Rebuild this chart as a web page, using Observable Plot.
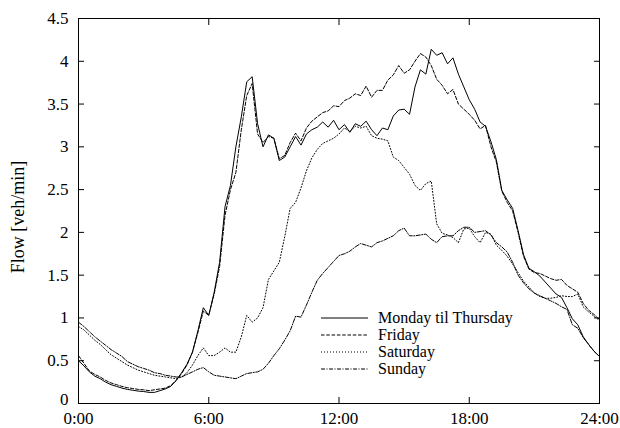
<!DOCTYPE html>
<html>
<head>
<meta charset="utf-8">
<script src="https://cdn.jsdelivr.net/npm/d3@7"></script>
<script src="https://cdn.jsdelivr.net/npm/@observablehq/plot@0.6"></script>
<style>
  body { margin: 0; background: white; }
  #wrap { position: relative; width: 620px; height: 428px; font-family: "Liberation Serif", "Times New Roman", serif; }
  #legend { position: absolute; left: 321px; top: 309px; font-size: 16px; line-height: 17px; color: black; }
  #legend .row { display: flex; align-items: center; height: 17px; }
  #legend svg { width: 47px; height: 10px; margin-right: 10px; }
  #ylabel { position: absolute; left: 18px; top: 217px; transform: translate(-50%, -50%) rotate(-90deg); font-size: 18px; white-space: nowrap; color: black; }
</style>
</head>
<body>
<div id="wrap"></div>
<script>
const hours = [0,0.25,0.5,0.75,1,1.25,1.5,1.75,2,2.25,2.5,2.75,3,3.25,3.5,3.75,4,4.25,4.5,4.75,5,5.25,5.5,5.75,6,6.25,6.5,6.75,7,7.25,7.5,7.75,8,8.25,8.5,8.75,9,9.25,9.5,9.75,10,10.25,10.5,10.75,11,11.25,11.5,11.75,12,12.25,12.5,12.75,13,13.25,13.5,13.75,14,14.25,14.5,14.75,15,15.25,15.5,15.75,16,16.25,16.5,16.75,17,17.25,17.5,17.75,18,18.25,18.5,18.75,19,19.25,19.5,19.75,20,20.25,20.5,20.75,21,21.25,21.5,21.75,22,22.25,22.5,22.75,23,23.25,23.5,23.75,24];

const monThu = [0.50,0.44,0.37,0.32,0.29,0.25,0.22,0.20,0.18,0.165,0.155,0.145,0.14,0.13,0.13,0.15,0.17,0.20,0.27,0.36,0.46,0.60,0.85,1.12,1.03,1.30,1.65,2.30,2.55,3.00,3.35,3.76,3.82,3.27,3.00,3.14,3.10,2.84,2.88,3.00,3.12,3.02,3.15,3.20,3.23,3.29,3.23,3.31,3.20,3.26,3.17,3.27,3.24,3.30,3.20,3.13,3.22,3.20,3.36,3.43,3.44,3.38,3.70,3.90,3.85,4.14,4.07,4.10,3.97,4.04,3.85,3.70,3.55,3.44,3.29,3.24,3.06,2.85,2.49,2.38,2.28,2.02,1.74,1.58,1.54,1.49,1.42,1.35,1.28,1.24,1.12,0.99,0.92,0.78,0.69,0.61,0.55];

const friday = [0.56,0.47,0.38,0.34,0.31,0.27,0.24,0.22,0.20,0.185,0.175,0.165,0.16,0.15,0.16,0.17,0.18,0.21,0.27,0.35,0.45,0.60,0.83,1.08,1.03,1.28,1.60,2.20,2.50,2.70,3.20,3.60,3.74,3.15,3.05,3.12,3.10,2.86,2.90,3.05,3.16,3.07,3.22,3.30,3.35,3.40,3.42,3.48,3.47,3.54,3.57,3.62,3.60,3.71,3.58,3.66,3.66,3.78,3.84,3.95,3.86,3.90,4.00,4.09,4.05,3.95,3.79,3.72,3.62,3.67,3.50,3.44,3.38,3.31,3.21,3.25,3.00,2.82,2.48,2.35,2.25,2.00,1.72,1.57,1.53,1.52,1.49,1.46,1.44,1.45,1.38,1.34,1.30,1.17,1.09,1.04,0.98];

const saturday = [0.90,0.86,0.80,0.74,0.69,0.63,0.57,0.53,0.49,0.45,0.42,0.39,0.37,0.35,0.33,0.32,0.31,0.30,0.29,0.31,0.36,0.45,0.56,0.65,0.56,0.56,0.60,0.65,0.60,0.60,0.78,1.03,0.95,1.00,1.12,1.45,1.55,1.65,1.95,2.28,2.35,2.52,2.72,2.87,2.97,3.04,3.07,3.10,3.15,3.22,3.18,3.24,3.22,3.24,3.13,3.10,3.09,3.07,2.88,2.84,2.76,2.68,2.55,2.49,2.57,2.60,2.10,1.99,1.97,1.94,1.88,2.04,2.05,1.95,1.88,2.00,1.98,1.85,1.79,1.72,1.63,1.53,1.43,1.36,1.29,1.25,1.23,1.23,1.24,1.26,1.25,1.25,1.28,1.13,1.07,1.02,0.97];

const sunday = [0.95,0.90,0.84,0.78,0.73,0.68,0.63,0.59,0.55,0.49,0.46,0.43,0.41,0.39,0.36,0.35,0.33,0.32,0.31,0.31,0.34,0.37,0.40,0.42,0.37,0.33,0.32,0.31,0.30,0.29,0.32,0.35,0.36,0.37,0.40,0.47,0.56,0.64,0.74,0.85,1.02,1.01,1.15,1.30,1.44,1.52,1.59,1.66,1.73,1.75,1.78,1.83,1.87,1.85,1.83,1.88,1.90,1.93,1.96,2.02,2.05,1.96,1.96,1.97,1.98,1.92,1.88,1.95,1.96,1.96,2.02,2.06,2.06,2.00,2.01,2.02,1.97,1.88,1.83,1.77,1.65,1.50,1.41,1.34,1.29,1.26,1.23,1.20,1.17,1.13,1.10,0.92,0.88,0.77,0.69,0.61,0.55];

const seriesNames = ["Monday til Thursday", "Friday", "Saturday", "Sunday"];
const seriesValues = [monThu, friday, saturday, sunday];
const dashes = ["none", "3.5,1.8", "1,2", "4,1.5,1,1.5"];

const xTicks = [0, 6, 12, 18, 24];
const xTickLabels = ["0:00", "6:00", "12:00", "18:00", "24:00"];
const yTicks = [0, 0.5, 1, 1.5, 2, 2.5, 3, 3.5, 4, 4.5];
const yLabel = "Flow [veh/min]";

const lineMarks = seriesValues.map((vals, k) =>
  Plot.line(hours.map((h, i) => ({hour: h, value: vals[i]})), {
    x: "hour", y: "value", stroke: "black", strokeWidth: 1,
    strokeDasharray: dashes[k], strokeLinejoin: "miter"
  })
);

const chart = Plot.plot({
  width: 620, height: 428,
  marginLeft: 78, marginRight: 21, marginTop: 18, marginBottom: 25,
  style: {fontFamily: "'Liberation Serif', 'Times New Roman', serif", fontSize: "17px", color: "black", background: "white"},
  x: {domain: [0, 24]},
  y: {domain: [0, 4.5]},
  marks: [
    ...lineMarks,
    Plot.frame({stroke: "black", strokeWidth: 1}),
    Plot.axisX({ticks: xTicks, tickSize: 0, tickPadding: 8, tickFormat: d => xTickLabels[xTicks.indexOf(d)], label: null}),
    Plot.axisX({ticks: xTicks, anchor: "bottom", tickSize: -6, tickFormat: () => "", label: null}),
    Plot.axisX({ticks: xTicks, anchor: "top", tickSize: -6, tickFormat: () => "", label: null}),
    Plot.axisY({ticks: yTicks.slice(1), tickSize: 0, tickPadding: 10, tickFormat: d => String(d), label: null}),
    Plot.axisY({ticks: yTicks.slice(0, 1), tickSize: 0, tickPadding: 10, dy: -4, tickFormat: d => String(d), label: null}),
    Plot.axisY({ticks: yTicks, anchor: "left", tickSize: -6, tickFormat: () => "", label: null}),
    Plot.axisY({ticks: yTicks, anchor: "right", tickSize: -6, tickFormat: () => "", label: null})
  ]
});

const wrap = document.getElementById("wrap");
wrap.appendChild(chart);

const yl = document.createElement("div");
yl.id = "ylabel";
yl.textContent = yLabel;
wrap.appendChild(yl);

const legend = document.createElement("div");
legend.id = "legend";
seriesNames.forEach((name, k) => {
  const row = document.createElement("div");
  row.className = "row";
  row.innerHTML = `<svg viewBox="0 0 47 10"><line x1="0" y1="5" x2="47" y2="5" stroke="black" stroke-width="1" stroke-dasharray="${dashes[k]}"/></svg><span>${name}</span>`;
  legend.appendChild(row);
});
wrap.appendChild(legend);
</script>
</body>
</html>
